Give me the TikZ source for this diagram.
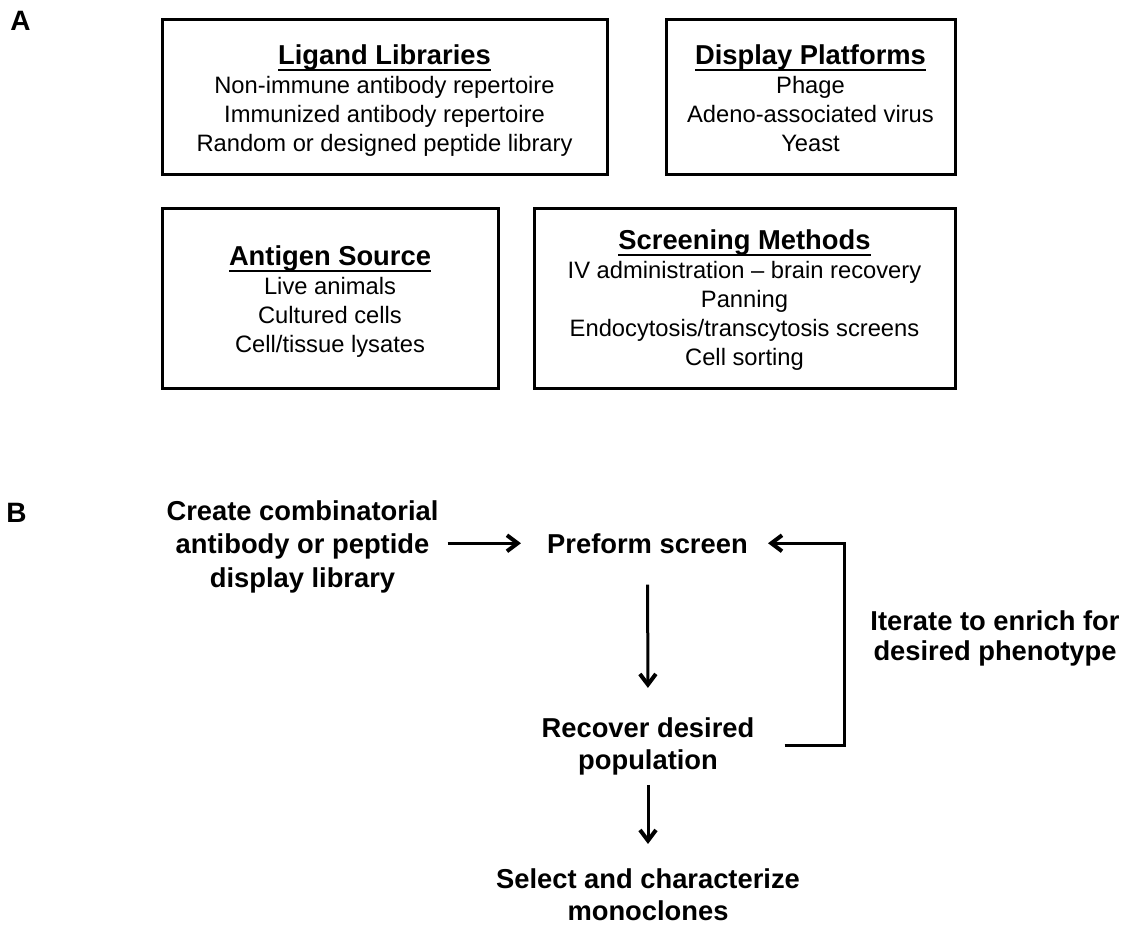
\documentclass[tikz,border=0pt]{standalone}
\usepackage{fontspec}
\setmainfont{Liberation Sans}
\usetikzlibrary{arrows.meta}
% bold heading with a thick rule under it
\newcommand{\ulhead}[1]{\setbox0\hbox{#1}\rlap{\vrule width\wd0 height -3.4pt depth 4.9pt}\box0}
\newcommand{\hd}[1]{{\fontsize{20.5}{21.75}\selectfont\bfseries\ulhead{#1}}}
\begin{document}
\begin{tikzpicture}[x=0.75pt,y=-0.75pt,
  panel/.style={draw, line width=2.25pt, inner sep=0pt},
  boxtext/.style={align=center, inner sep=0pt, anchor=base,
    font=\fontsize{17.8}{21.75}\selectfont},
  steptext/.style={align=center, inner sep=0pt, anchor=base,
    font=\fontsize{20.5}{24}\selectfont\bfseries},
  panellabel/.style={inner sep=0pt, anchor=base west,
    font=\fontsize{21}{25}\selectfont\bfseries},
  flow/.style={line width=2.25pt,
    -{Straight Barb[length=8pt,width=12pt,line width=3pt]}}
]
\useasboundingbox (0,0) rectangle (1128,926);

% ---------- panel A ----------
% (multi-line texts are placed by the baseline of their last line)
\node[panellabel] (labA) at (10,30) {A};

\node[panel, minimum width={445*0.75pt}, minimum height={155*0.75pt}] (lig) at (384.5,96.5) {};
\node[boxtext] (ligtxt) at (384.5,151) {\hd{Ligand Libraries}\\
  Non-immune antibody repertoire\\
  Immunized antibody repertoire\\
  Random or designed peptide library};

\node[panel, minimum width={289*0.75pt}, minimum height={155*0.75pt}] (disp) at (810.5,96.5) {};
\node[boxtext] (disptxt) at (810.5,151) {\hd{Display Platforms}\\
  Phage\\
  Adeno-associated virus\\
  Yeast};

\node[panel, minimum width={336*0.75pt}, minimum height={180*0.75pt}] (ant) at (330,298) {};
\node[boxtext] (anttxt) at (330,352) {\hd{Antigen Source}\\
  Live animals\\
  Cultured cells\\
  Cell/tissue lysates};

\node[panel, minimum width={421*0.75pt}, minimum height={180*0.75pt}] (scr) at (744.5,298) {};
\node[boxtext] (scrtxt) at (744.5,365) {\hd{Screening Methods}\\
  IV administration -- brain recovery\\
  Panning\\
  Endocytosis/transcytosis screens\\
  Cell sorting};

% ---------- panel B ----------
\node[panellabel] (labB) at (6,522) {B};

\node[steptext, font=\fontsize{20.5}{25.1}\selectfont\bfseries] (create) at (302.5,587)
  {Create combinatorial\\antibody or peptide\\display library};
\node[steptext] (preform) at (647.5,553) {Preform screen};
\node[steptext] (recover) at (648,769) {Recover desired\\population};
\node[steptext] (select) at (648,920) {Select and characterize\\monoclones};
\node[steptext, font=\fontsize{20.5}{22.5}\selectfont\bfseries] (iterate) at (995,660)
  {Iterate to enrich for\\desired phenotype};

\draw[flow, shorten <=6.75pt, shorten >=19.5pt] (create.east |- preform.west) -- (preform.west);
\draw[flow, shorten <=23.25pt, shorten >=21.75pt] (preform.south) -- (recover.north);
\draw[flow, shorten <=7.5pt, shorten >=18pt] (recover.south) -- (select.north);
\draw[flow, shorten >=15pt] ([xshift=22.5pt]recover.east) -- ++(60,0) |- (preform.east);
\end{tikzpicture}
\end{document}
